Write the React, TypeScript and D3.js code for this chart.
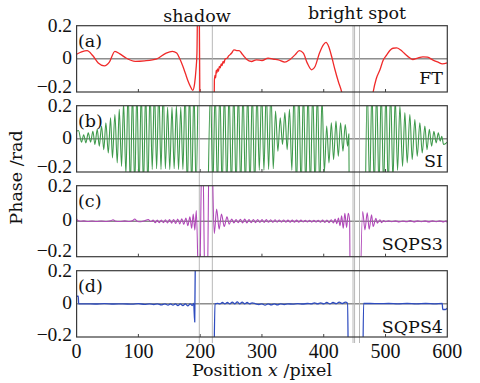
import React from 'react';
import * as d3 from 'd3';

type P = [number, number] | null;

const xTicks = [0, 100, 200, 300, 400, 500, 600];
const yTicks = [-0.2, 0, 0.2];
const yTickLabels = ['\u22120.2', '0', '0.2'];
const panelNames = ['(a)', '(b)', '(c)', '(d)'];
const methodNames = ['FT', 'SI', 'SQPS3', 'SQPS4'];
const colors = ['#f02a2a', '#3f9a4c', '#b048b8', '#2e4cbf'];
const markerX = [198.6, 219.7, 447.4, 449.9, 457.9];
const regionLabels = [
  { text: 'shadow', x: 195 },
  { text: 'bright spot', x: 453 },
];

// (a) FT
const ftData: P[] = [
  [0, 0.028], [8, 0.042], [17, 0.05], [26, 0.02], [35, -0.025], [45, -0.042], [53, -0.02], [62, 0.045],
  [70, 0.03], [80, 0.005], [95, -0.015], [110, -0.012], [130, 0], [145, 0.035], [155, 0.045], [162, 0.035],
  [167, 0], [172, -0.045], [176, -0.087], [180, -0.13], [184, -0.165], [188, -0.19], [191, -0.15],
  [193.2, -0.066], [194.8, 0.034], [196, 0.35], [198.5, 0.35], [199.8, -0.4],
  null,
  [222.2, -0.4], [223, -0.13], [224, -0.1], [225, -0.115], [226, -0.07], [227, -0.085], [228, -0.06],
  [229.5, -0.075], [231, -0.045], [232.5, -0.055], [234, -0.03], [235.5, -0.04], [237, -0.015], [238.5, -0.025],
  [240, -0.005], [242, 0.002], [244, 0.005], [246, 0.018], [248, 0.024], [251, 0.035], [254.7, 0.054],
  [259, 0.05], [263, 0.05], [267, 0.034], [271, 0.015], [275, -0.002], [283, -0.016], [291, -0.006],
  [300, -0.01], [310, 0.004], [318, -0.002], [326.5, -0.006], [337, -0.02], [345, -0.005], [353.5, 0.024],
  [360.5, 0.05], [367, 0.034], [373.4, -0.026], [380.5, -0.066], [386, -0.046], [393, 0.034], [399.4, 0.085],
  [403.7, 0.099], [408, 0.074], [412.8, 0.014], [418.2, -0.066], [423.6, -0.137], [429, -0.2], [434, -0.3],
  null,
  [476, -0.3], [480, -0.2], [485, -0.12], [491, -0.066], [496, -0.01], [502, 0.024], [507, 0.05], [512, 0.064],
  [518, 0.066], [524, 0.055], [530, 0.035], [536, 0.015], [544, -0.004], [552, 0.005], [560.5, 0.012],
  [568, 0.01], [577, -0.008], [585, -0.02], [592, -0.03], [600, -0.024],
];

// (b) SI
const siData: P[] = [
  [0, 0.046], [3, 0.05], [8, -0.02], [11.5, 0.025], [15, -0.024], [18.9, 0.036], [22.6, -0.02], [26.4, 0.046],
  [29.6, -0.034], [33.4, 0.057], [36.7, -0.044], [40.4, 0.077], [44, -0.065], [47.4, 0.097], [51.3, -0.085],
  [55, 0.127], [58, -0.115], [62, 0.147], [65.8, -0.145], [69, 0.178], [72.8, -0.166], [76, 0.22], [79.8, -0.21],
  [83.4, 0.3], [87, -0.3], [90.5, 0.3], [94, -0.3], [97.6, 0.3], [101.1, -0.3], [104.7, 0.3], [108.2, -0.3],
  [111.8, 0.3], [115.3, -0.3], [118.9, 0.3], [122.4, -0.185], [126, 0.3], [129.5, -0.18], [133.1, 0.3],
  [136.6, -0.185], [140.2, 0.3], [143.7, -0.18], [147.3, 0.19], [150.8, -0.185], [154.4, 0.19], [157.9, -0.18],
  [161.5, 0.2], [165, -0.185], [168.6, 0.19], [172.1, -0.185], [175.7, 0.3], [179.2, -0.3], [182.8, 0.3],
  [186.3, -0.3], [189.9, 0.3], [193.4, -0.3], [196.5, 0.3],
  null,
  [213, -0.3], [216.8, 0.3], [220.5, -0.3], [224.3, 0.3], [228, -0.3], [231.8, 0.3], [235.6, -0.3], [239.3, 0.3],
  [243.1, -0.3], [246.8, 0.3], [250.6, -0.3], [254.4, 0.3], [258.1, -0.3], [261.9, 0.3], [265.6, -0.3],
  [269.4, 0.3], [273.2, -0.3], [276.9, 0.3], [280.7, -0.3], [284.4, 0.3], [288.2, -0.3], [292, 0.3],
  [295.7, -0.19], [299.5, 0.3], [303.2, -0.19], [307, 0.3], [310.8, -0.185], [314.5, 0.3], [318.3, -0.18],
  [322, 0.168], [325.8, -0.075], [329.6, 0.127], [333.3, -0.034], [337.1, 0.158], [340.8, -0.065],
  [344.6, 0.178], [348.4, -0.19], [352.1, 0.3], [355.9, -0.3], [359.6, 0.3], [363.4, -0.3], [367.2, 0.3],
  [370.9, -0.3], [374.7, 0.3], [378.4, -0.3], [382.2, 0.3], [386, -0.3], [389.7, 0.3], [393.5, -0.3],
  [397.2, 0.25], [401, -0.2], [404.8, 0.077], [408.5, -0.145], [412.3, 0.097], [416, -0.125], [419.8, 0.107],
  [423.6, -0.105], [427.3, 0.097], [431.1, -0.075], [434.8, 0.087], [438.6, -0.044], [440.6, 0.03], [441.4, -0.4],
  null,
  [467.3, -0.4], [470.5, 0.3], [474.3, -0.3], [478, 0.3], [481.8, -0.3], [485.6, 0.3], [489.4, -0.3],
  [493.1, 0.3], [496.9, -0.3], [500.7, 0.3], [504.4, -0.3], [508.2, 0.3], [512, -0.25], [515.7, 0.25],
  [519.5, -0.19], [523.3, 0.198], [527.6, -0.166], [531.3, 0.158], [535.1, -0.145], [539.4, 0.147],
  [543.2, -0.125], [547.5, 0.117], [551.3, -0.105], [555.6, 0.097], [559.4, -0.085], [563.7, 0.077],
  [567.2, -0.065], [570.9, 0.057], [574.6, -0.044], [578.3, 0.046], [582, -0.024], [585.5, 0.036],
  [588.5, -0.014], [591, 0.016], [594, -0.034], [598, -0.026], [600, -0.02],
];

// (c) SQPS3
const sq3Data: P[] = [
  [0, 0.012], [2, 0.004], [6, 0], [12, 0.002], [18, -0.002], [25, 0.001], [32, -0.002], [40, 0.001],
  [48, -0.002], [55, 0.002], [59, 0.008], [63, 0], [70, -0.002], [78, 0.002], [85, -0.002], [91, 0.004],
  [94, 0.012], [98, 0], [104, -0.003], [110, 0.003], [116, 0.01], [120, -0.002],
  [124, 0.006], [127.3, -0.008], [130.6, 0.006], [133.9, -0.008], [137.2, 0.007], [140.5, -0.009],
  [143.8, 0.008], [147.1, -0.01], [150.4, 0.009], [153.7, -0.011], [157, 0.01], [160.3, -0.013],
  [163.6, 0.012], [166.9, -0.015], [170.2, 0.014], [173.5, -0.018], [176.8, 0.018], [180.1, -0.025],
  [183.4, 0.025], [186.2, -0.04], [188.8, 0.04], [191.3, -0.05], [193.8, 0.06],
  [198.3, -0.5], [203.5, 0.5], [208.5, -0.5], [211, -0.5], [215, 0.5], [218, 0.5],
  [222.8, -0.07], [226.7, 0.068], [230.7, -0.045], [234.5, 0.04], [239, -0.03], [243.4, 0.025],
  [247, -0.017], [251, 0.012],
  [254.6, -0.01], [258.1, 0.01], [261.6, -0.009], [265.1, 0.011], [268.6, -0.01], [272.1, 0.012],
  [275.6, -0.01], [279.1, 0.01], [282.6, -0.009], [286.1, 0.01], [289.6, -0.008], [293.1, 0.01],
  [296.6, -0.007], [300.1, 0.009], [303.6, -0.007], [307.1, 0.009], [310.6, -0.006], [314.1, 0.008],
  [317.6, -0.006], [321.1, 0.008], [324.6, -0.005], [328.1, 0.007], [331.6, -0.005], [335.1, 0.007],
  [338.6, -0.005], [342.1, 0.006], [345.6, -0.005], [349.1, 0.006], [352.6, -0.005], [356.1, 0.006],
  [359.6, -0.005], [363.1, 0.006], [366.6, -0.004], [370.1, 0.005], [373.6, -0.004], [377.1, 0.005],
  [380.6, -0.005], [384.1, 0.005], [387.6, -0.005], [391.1, 0.005], [394.6, -0.006], [398.1, 0.006],
  [401.6, -0.007], [405.1, 0.007], [408.6, -0.008], [412.1, 0.008], [415.6, -0.01], [418.5, 0.012],
  [421.2, -0.014], [423.8, 0.018], [426.4, -0.025], [429, 0.03], [431.6, -0.04], [434.2, 0.045],
  [437, -0.035], [439.7, 0.045], [442, 0], [443, -0.5],
  null,
  [458.8, -0.5], [463, 0.054], [466.7, -0.049], [470.4, 0.048], [473.6, -0.045], [477.4, 0.036],
  [480, -0.03], [484.5, 0.017], [486.6, -0.011], [491, 0.008], [493.7, -0.008], [497, 0.004],
  [500, -0.003], [505, 0.002], [510, -0.003], [516, 0.002], [522, -0.004], [528, 0.001], [534, -0.003],
  [540, 0.003], [546, -0.004], [552, 0.002], [558, -0.003], [564, 0.002], [570, -0.004], [576, 0.002],
  [582, -0.003], [588, 0.002], [594, -0.004], [598, 0.002], [600, -0.008],
];

// (d) SQPS4
const sq4Data: P[] = [
  [0, 0.046], [2.7, 0.046], [3.3, 0], [15, 0], [30, -0.001], [45, 0.001], [60, -0.001], [75, 0],
  [90, -0.002], [100, 0.001], [110, -0.003], [118, 0], [125, -0.004], [131, 0], [137, -0.006], [143, 0],
  [148, -0.008], [152, 0], [156, -0.008], [160, 0], [164, -0.01], [168, 0], [172, -0.01], [176, 0],
  [180, -0.012], [184, 0], [187, -0.01], [189.5, 0.002], [191.2, -0.11], [192.5, 0.4],
  null,
  [222.3, -0.4], [224, 0], [228, 0.003], [232, 0], [236, 0.008], [240, 0], [244, 0.008], [248, 0],
  [252, 0.01], [256, 0], [260, 0.012], [264, 0], [268, 0.01], [272, 0], [276, 0.008], [280, 0],
  [284, 0.006], [290, 0], [295, -0.004], [300, 0], [305, -0.008], [310, 0], [315, -0.006], [320, 0],
  [325, -0.006], [330, 0], [336, -0.004], [342, 0], [350, -0.002], [358, 0.001], [366, -0.001],
  [374, 0.002], [380, 0], [385, 0.006], [390, 0], [395, 0.006], [400, 0], [405, 0.008], [410, 0],
  [415, 0.008], [420, 0.001], [425, 0.01], [430, 0.002], [435, 0.01], [438.5, 0.004], [439.8, -0.4],
  null,
  [463.3, -0.4], [464.5, 0.002], [475, 0.002], [490, 0.001], [505, 0.002], [520, 0], [535, 0.002],
  [550, 0], [565, 0.002], [580, 0], [591.8, 0.002], [592.6, -0.034], [597, -0.034], [600, -0.026],
];

const seriesData = [ftData, siData, sq3Data, sq4Data];

// layout
const panelTop = [25.7, 105.7, 185.7, 270.7];
const panelBottom = [92, 172, 256.7, 337];
const methodOffset = [8, 5, 6.5, 4];
const bottomLabelOffset = [0.5, 0.5, 0.5, 4];

const WORD_FONT = '"DejaVu Serif", serif';
const NUM_FONT = '"Liberation Serif", serif';

export default function App() {
  const x = d3.scaleLinear().domain([0, 600]).range([76.6, 447.3]);
  const x0 = x(0);
  const x1 = x(600);

  return (
    <svg width={480} height={383} style={{ position: 'absolute', left: 0, top: 0, background: '#fff' }}>
      <defs>
        {panelTop.map((t, i) => (
          <clipPath id={`clip${i}`} key={i}>
            <rect x={x0} y={t} width={x1 - x0} height={panelBottom[i] - t} />
          </clipPath>
        ))}
      </defs>

      {panelTop.map((t, i) => {
        const b = panelBottom[i];
        const y = d3.scaleLinear().domain([-0.2, 0.2]).range([b, t]);
        return (
          <g key={i}>
            <line x1={x0} x2={x1} y1={y(0)} y2={y(0)} stroke="#555" strokeWidth={1} />
            {xTicks.slice(1, -1).map((v) => (
              <line key={v} x1={x(v)} x2={x(v)} y1={b} y2={b - 3} stroke="#444" strokeWidth={1} />
            ))}
            {yTicks.map((v, k) => (
              <text
                key={v}
                x={72}
                y={y(v) + (k === 0 ? bottomLabelOffset[i] : k === 1 ? 5 : 6.5)}
                textAnchor="end"
                fontFamily={NUM_FONT}
                fontSize={19.5}
                fill="#111"
              >
                {yTickLabels[k]}
              </text>
            ))}
            <text x={78} y={t + 21} fontFamily={WORD_FONT} fontSize={17.5} fill="#111">
              {panelNames[i]}
            </text>
            <text x={443} y={b - methodOffset[i]} textAnchor="end" fontFamily={WORD_FONT} fontSize={17.5} fill="#111">
              {methodNames[i]}
            </text>
          </g>
        );
      })}

      {markerX.map((m, k) => (
        <line key={k} x1={x(m)} x2={x(m)} y1={panelTop[0]} y2={343} stroke="#b0b0b0" strokeWidth={0.9} />
      ))}

      {panelTop.map((t, i) => {
        const b = panelBottom[i];
        const y = d3.scaleLinear().domain([-0.2, 0.2]).range([b, t]);
        const line = d3
          .line<P>()
          .defined((d) => d != null)
          .x((d) => x((d as [number, number])[0]))
          .y((d) => y((d as [number, number])[1]))
          .curve(d3.curveMonotoneX);
        return (
          <g key={`s${i}`}>
            <path
              d={line(seriesData[i]) || ''}
              fill="none"
              stroke={colors[i]}
              strokeWidth={i === 0 || i === 3 ? 1.3 : 1.1}
              clipPath={`url(#clip${i})`}
              strokeLinejoin="round"
            />
            <rect x={x0} y={t} width={x1 - x0} height={b - t} fill="none" stroke="#3a3a3a" strokeWidth={1.2} />
          </g>
        );
      })}

      {regionLabels.map((r, k) => (
        <text
          key={r.text}
          x={k === 0 ? 197 : 357}
          y={k === 0 ? 21.5 : 18.5}
          textAnchor="middle"
          fontFamily={WORD_FONT}
          fontSize={17.5}
          fill="#111"
        >
          {r.text}
        </text>
      ))}

      {xTicks.map((v) => (
        <text key={v} x={x(v)} y={357.5} textAnchor="middle" fontFamily={NUM_FONT} fontSize={20} fill="#111">
          {v}
        </text>
      ))}

      <text x={262} y={375.5} textAnchor="middle" fontFamily={WORD_FONT} fontSize={17.5} fill="#111">
        Position <tspan fontStyle="italic">x</tspan> /pixel
      </text>
      <text
        transform="translate(22,177.5) rotate(-90)"
        textAnchor="middle"
        fontFamily={WORD_FONT}
        fontSize={17.5}
        fill="#111"
      >
        Phase /rad
      </text>
    </svg>
  );
}
